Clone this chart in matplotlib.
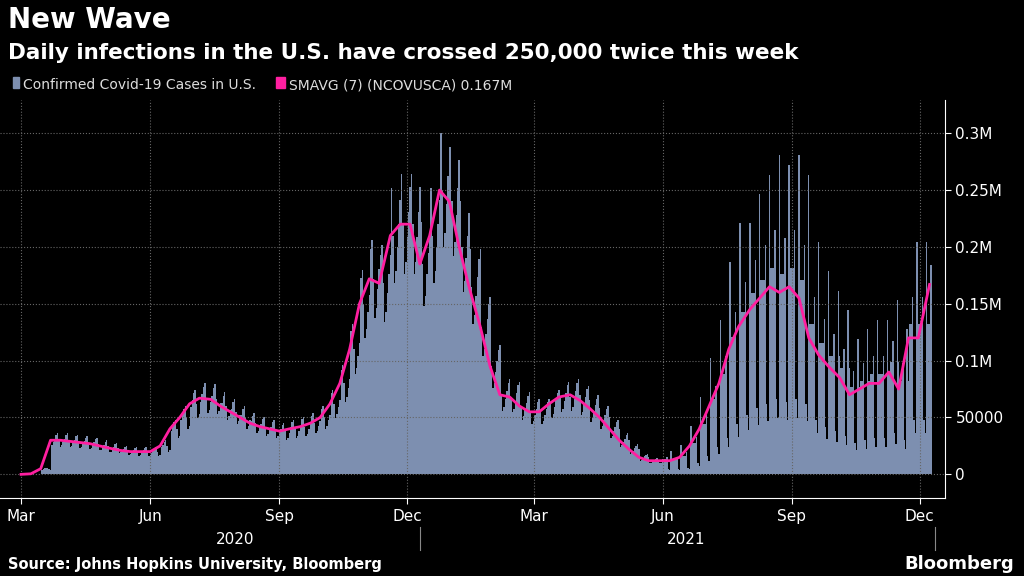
import numpy as np
import matplotlib
matplotlib.use("Agg")
import matplotlib.pyplot as plt
import datetime as dt

# 7-day average (thousands), read at ~weekly steps starting 2020-03-01
weekly_avg = [0,0.5,5,30,30,29,28,27,25,23,21,20,20,20,25,40,50,62,67,66,
              60,55,50,45,42,40,38,40,42,45,50,62,80,110,150,172,168,210,220,220,
              185,210,250,240,200,165,130,95,70,68,60,55,55,62,68,70,65,58,50,40,
              30,22,15,12,12,12,15,25,40,60,80,110,130,145,155,165,160,165,155,120,
              105,95,85,70,75,80,80,90,75,120,120,167]
step_days = 7.11
# weekday factors (Sun..Sat): early period vs. late-2021 reporting pattern
factor_early = [0.8,0.85,0.95,1.05,1.15,1.2,1.0]
factor_late = [0.3,1.7,1.1,1.1,1.1,1.3,0.4]
late_start = dt.date(2021,6,1)
end = dt.date(2021,12,9)

start = dt.date(2020,3,1)
week_dates = [start + dt.timedelta(days=k*step_days) for k in range(len(weekly_avg))]
week_vals = [v*1000 for v in weekly_avg]
days, vals = [], []
d = start
while d <= end:
    k = min(int((d-start).days/step_days), len(weekly_avg)-1)
    f = factor_late if d >= late_start else factor_early
    days.append(d)
    vals.append(weekly_avg[k]*1000*f[(d.weekday()+1) % 7])
    d += dt.timedelta(days=1)

fig = plt.figure(figsize=(10.24,5.76), dpi=100, facecolor='black')
ax = fig.add_axes([0, 0.135, 945/1024, 0.691], facecolor='black')
ax.bar(days, vals, width=1.0, color='#7d8fb0', linewidth=0)
ax.plot(week_dates, week_vals, color='#ff1fa0', lw=2)
ax.set_xlim(dt.date(2020,2,15), dt.date(2021,12,19))
ax.set_ylim(-21000, 329000)
ax.yaxis.tick_right()
yt = [0,50000,100000,150000,200000,250000,300000]
ax.set_yticks(yt)
ax.set_yticklabels(['0','50000','0.1M','0.15M','0.2M','0.25M','0.3M'], color='white', fontsize=11)
xt = [dt.date(y,m,1) for y in (2020,2021) for m in (3,6,9,12)]
ax.set_xticks(xt)
ax.set_xticklabels(['Mar','Jun','Sep','Dec']*2, color='white', fontsize=11)
ax.tick_params(colors='white', length=4)
ax.grid(True, color='#666666', ls=':', lw=0.8)
for s in ['top','left']:
    ax.spines[s].set_visible(False)
ax.spines['bottom'].set_color('white'); ax.spines['right'].set_color('white')

fig.text(0.008, 0.952, 'New Wave', color='white', fontsize=20, fontweight='bold')
fig.text(0.008, 0.898, 'Daily infections in the U.S. have crossed 250,000 twice this week',
         color='white', fontsize=15.5, fontweight='bold')
fig.text(0.022, 0.845, 'Confirmed Covid-19 Cases in U.S.', color='#dddddd', fontsize=10)
fig.patches.append(plt.Rectangle((0.013,0.848),0.006,0.018,transform=fig.transFigure,color='#7d8fb0'))
fig.patches.append(plt.Rectangle((0.27,0.848),0.008,0.018,transform=fig.transFigure,color='#ff1fa0'))
fig.text(0.282, 0.845, 'SMAVG (7) (NCOVUSCA) 0.167M', color='#dddddd', fontsize=10)
fig.text(0.23, 0.055, '2020', color='white', fontsize=11, ha='center')
fig.text(0.67, 0.055, '2021', color='white', fontsize=11, ha='center')
fig.add_artist(plt.Line2D([420/1024]*2,[0.045,0.085],color='#888888',lw=0.8))
fig.add_artist(plt.Line2D([935/1024]*2,[0.045,0.085],color='#888888',lw=0.8))
fig.text(0.008, 0.012, 'Source: Johns Hopkins University, Bloomberg', color='white', fontsize=10.5, fontweight='bold')
fig.text(0.99, 0.012, 'Bloomberg', color='white', fontsize=13, fontweight='bold', ha='right')
fig.savefig('out.png', dpi=100, facecolor='black')
